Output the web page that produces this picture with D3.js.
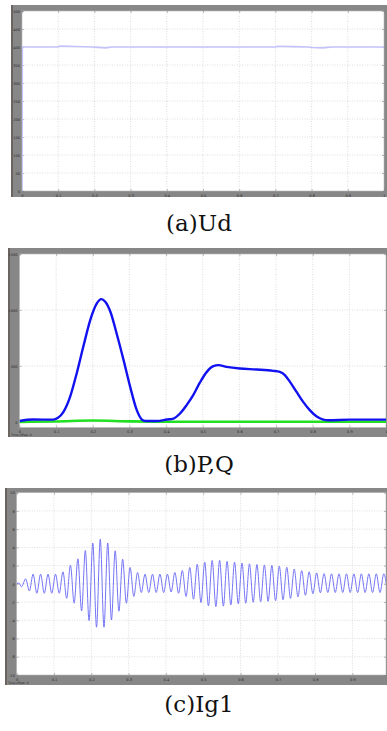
<!DOCTYPE html>
<html>
<head>
<meta charset="utf-8">
<script src="https://cdn.jsdelivr.net/npm/d3@7"></script>
<style>
  html, body { margin: 0; padding: 0; background: #ffffff; }
  svg { display: block; }
</style>
</head>
<body>
<svg id="fig" width="387" height="731"></svg>
<script>
// ---- Data -------------------------------------------------------------
// (a) DC bus voltage Ud
const udTime  = [0, 0.001, 0.099, 0.105, 0.15, 0.195, 0.21, 0.232, 0.248, 0.70, 0.705, 0.75, 0.79, 0.80, 0.83, 0.845, 0.855, 1];
const udValue = [0, 400, 400, 402.5, 401.5, 400, 399, 397.5, 400, 400, 402, 401, 400, 398.5, 397.5, 399, 400, 400];

// (b) active power P and reactive power Q
const pTime  = [0, 0.037, 0.092, 0.104, 0.12, 0.138, 0.156, 0.174, 0.193, 0.211, 0.223, 0.234, 0.248, 0.265, 0.284, 0.302, 0.32, 0.334, 0.343, 0.375, 0.402, 0.42, 0.438, 0.456, 0.474, 0.492, 0.511, 0.529, 0.543, 0.565, 0.601, 0.647, 0.692, 0.71, 0.724, 0.738, 0.756, 0.774, 0.792, 0.81, 0.829, 0.843, 0.9, 1];
const pValue = [8, 21, 20, 34, 90, 224, 433, 671, 910, 1059, 1097, 1073, 984, 790, 552, 313, 105, 21, 8, 8, 21, 30, 75, 150, 239, 350, 447, 498, 507, 492, 477, 468, 456, 447, 418, 358, 268, 179, 105, 51, 21, 15, 20, 20];
const qTime  = [0, 0.1, 0.2, 0.3, 0.4, 0.6, 0.8, 1];
const qValue = [0, 4, 12, 5, 2, 2, 1, 1];

// (c) grid current Ig1, sampled at its turning points
const igTime = [0, 0.006, 0.013,
  0.024, 0.034, 0.044, 0.054, 0.064, 0.074, 0.084, 0.094, 0.104, 0.114,
  0.124, 0.134, 0.144, 0.154, 0.164, 0.174, 0.184, 0.194, 0.204, 0.214,
  0.224, 0.234, 0.244, 0.254, 0.264, 0.274, 0.284, 0.294, 0.304, 0.314,
  0.324, 0.334, 0.344, 0.354, 0.364, 0.374, 0.384, 0.394, 0.404, 0.414,
  0.424, 0.434, 0.444, 0.454, 0.464, 0.474, 0.484, 0.494, 0.504, 0.514,
  0.524, 0.534, 0.544, 0.554, 0.564, 0.574, 0.584, 0.594, 0.604, 0.614,
  0.624, 0.634, 0.644, 0.654, 0.664, 0.674, 0.684, 0.694, 0.704, 0.714,
  0.724, 0.734, 0.744, 0.754, 0.764, 0.774, 0.784, 0.794, 0.804, 0.814,
  0.824, 0.834, 0.844, 0.854, 0.864, 0.874, 0.884, 0.894, 0.904, 0.914,
  0.924, 0.934, 0.944, 0.954, 0.964, 0.974, 0.984, 0.994];
const igValue = [0.05, 0.08, -0.32,
  0.55, -0.77, 1.06, -1.03, 1.06, -1.03, 1.06, -1.03, 1.06, -1.03,
  1.32, -1.58, 2.05, -2.12, 2.75, -2.97, 3.66, -4.03, 4.47, -4.76,
  4.9, -4.76, 4.47, -3.96, 3.63, -3.0, 2.71, -2.12, 1.8, -1.39,
  1.25, -0.95, 1.06, -0.95, 1.06, -0.95, 1.06, -0.95, 1.06, -0.9,
  1.25, -1.03, 1.47, -1.39, 1.8, -1.68, 2.16, -2.05, 2.38, -2.42,
  2.56, -2.49, 2.58, -2.45, 2.47, -2.32, 2.38, -2.2, 2.28, -2.12,
  2.2, -2.02, 2.12, -1.97, 2.08, -1.92, 2.02, -1.85, 1.95, -1.75,
  1.82, -1.6, 1.62, -1.42, 1.45, -1.25, 1.32, -1.08, 1.2, -0.98,
  1.12, -0.95, 1.1, -0.95, 1.1, -0.95, 1.1, -0.95, 1.1, -0.95,
  1.1, -0.95, 1.1, -0.95, 1.1, -0.95, 1.1, -0.95];

// Axis ticks
const timeTicks = [0, 0.1, 0.2, 0.3, 0.4, 0.5, 0.6, 0.7, 0.8, 0.9, 1];
const udTicks = [0, 50, 100, 150, 200, 250, 300, 350, 400, 450, 500];
const pqTicks = [0, 500, 1000, 1500];
const igTicks = [-10, -8, -6, -4, -2, 0, 2, 4, 6, 8, 10];

const captions = ["(a)Ud", "(b)P,Q", "(c)Ig1"];

// ---- Panel layout -----------------------------------------------------
const panels = [
  {
    frame: { x: 11, y: 5, w: 376, h: 192 },
    plot:  { x0: 22, x1: 384, y0: 11, y1: 191 },
    xDomain: [0, 1], yDomain: [0, 500], yTicks: udTicks,
    series: [
      { t: udTime, v: udValue, color: "#c3c3fb", width: 1.6, curve: d3.curveLinear }
    ],
    caption: captions[0], captionY: 231
  },
  {
    frame: { x: 8, y: 248, w: 379, h: 189 },
    plot:  { x0: 19.5, x1: 386, y0: 254, y1: 427.5 },
    xDomain: [0, 1], yDomain: [-50, 1500], yTicks: pqTicks,
    series: [
      { t: qTime, v: qValue, color: "#22e022", width: 2.6, curve: d3.curveMonotoneX },
      { t: pTime, v: pValue, color: "#1212f0", width: 2.4, curve: d3.curveMonotoneX }
    ],
    offsetLabel: true,
    caption: captions[1], captionY: 472
  },
  {
    frame: { x: 5, y: 488, w: 382, h: 197 },
    plot:  { x0: 16.7, x1: 386, y0: 492.7, y1: 675 },
    xDomain: [0, 0.99], yDomain: [-10, 10], yTicks: igTicks,
    series: [
      { t: igTime, v: igValue, color: "#7474f6", width: 1.0, curve: d3.curveMonotoneX }
    ],
    offsetLabel: true,
    caption: captions[2], captionY: 712
  }
];

const svg = d3.select("#fig");
const fmt = d => String(d);

panels.forEach((p, i) => {
  const g = svg.append("g");
  const f = p.frame;

  // scope window frame
  g.append("rect").attr("x", f.x).attr("y", f.y).attr("width", f.w).attr("height", f.h)
    .attr("fill", "#878787");
  g.append("rect").attr("x", f.x).attr("y", f.y).attr("width", 2).attr("height", f.h)
    .attr("fill", "#6c6460");

  const x = d3.scaleLinear().domain(p.xDomain).range([p.plot.x0, p.plot.x1]);
  const y = d3.scaleLinear().domain(p.yDomain).range([p.plot.y1, p.plot.y0]);
  const pw = p.plot.x1 - p.plot.x0, ph = p.plot.y1 - p.plot.y0;

  g.append("rect").attr("x", p.plot.x0).attr("y", p.plot.y0)
    .attr("width", pw).attr("height", ph)
    .attr("fill", "#ffffff").attr("stroke", "#b8b8b8").attr("stroke-width", 0.6);

  const xt = timeTicks.filter(t => t >= p.xDomain[0] && t <= p.xDomain[1] + 1e-9);

  // dotted grid
  const grid = g.append("g").attr("stroke", "#cfcfcf").attr("stroke-width", 0.7)
    .attr("stroke-dasharray", "1,1.5");
  grid.selectAll("line.v").data(xt.filter(t => t > p.xDomain[0] && t < p.xDomain[1]))
    .join("line").attr("class", "v")
    .attr("x1", d => x(d)).attr("x2", d => x(d))
    .attr("y1", p.plot.y0).attr("y2", p.plot.y1);
  grid.selectAll("line.h").data(p.yTicks.filter(t => y(t) > p.plot.y0 + 0.5 && y(t) < p.plot.y1 - 0.5))
    .join("line").attr("class", "h")
    .attr("y1", d => y(d)).attr("y2", d => y(d))
    .attr("x1", p.plot.x0).attr("x2", p.plot.x1);

  // axes with inward ticks
  const axB = d3.axisBottom(x).tickValues(xt).tickFormat(fmt).tickSizeInner(-2).tickSizeOuter(0).tickPadding(3);
  const axT = d3.axisTop(x).tickValues(xt).tickFormat("").tickSizeInner(-2).tickSizeOuter(0);
  const axL = d3.axisLeft(y).tickValues(p.yTicks).tickFormat(fmt).tickSizeInner(-2).tickSizeOuter(0).tickPadding(2);
  const axR = d3.axisRight(y).tickValues(p.yTicks).tickFormat("").tickSizeInner(-2).tickSizeOuter(0);

  const styleAxis = sel => {
    sel.select(".domain").remove();
    sel.selectAll("line").attr("stroke", "#777").attr("stroke-width", 0.5);
    sel.selectAll("text").attr("fill", "#2a2a2a").attr("font-size", 3.6)
      .attr("font-family", "DejaVu Sans, sans-serif");
  };
  g.append("g").attr("transform", `translate(0,${p.plot.y1})`).call(axB).call(styleAxis);
  g.append("g").attr("transform", `translate(0,${p.plot.y0})`).call(axT).call(styleAxis);
  g.append("g").attr("transform", `translate(${p.plot.x0},0)`).call(axL).call(styleAxis);
  g.append("g").attr("transform", `translate(${p.plot.x1},0)`).call(axR).call(styleAxis);

  if (p.offsetLabel) {
    g.append("text").attr("x", f.x + 3).attr("y", f.y + f.h - 0.8)
      .attr("font-size", 3).attr("fill", "#2a2a2a")
      .attr("font-family", "DejaVu Sans, sans-serif").text("Time offset: 0");
  }

  // signal traces, clipped to the plot window
  const clipId = "clip" + i;
  g.append("clipPath").attr("id", clipId).append("rect")
    .attr("x", p.plot.x0).attr("y", p.plot.y0).attr("width", pw).attr("height", ph);
  const traces = g.append("g").attr("clip-path", `url(#${clipId})`);
  p.series.forEach(s => {
    const pts = s.t.map((t, k) => [t, s.v[k]]);
    traces.append("path").datum(pts)
      .attr("fill", "none").attr("stroke", s.color).attr("stroke-width", s.width)
      .attr("stroke-linejoin", "round")
      .attr("d", d3.line().x(d => x(d[0])).y(d => y(d[1])).curve(s.curve));
  });

  // caption
  svg.append("text").attr("x", 199).attr("y", p.captionY)
    .attr("text-anchor", "middle")
    .attr("font-family", "DejaVu Serif, serif").attr("font-size", 23)
    .attr("fill", "#111").text(p.caption);
});
</script>
</body>
</html>
